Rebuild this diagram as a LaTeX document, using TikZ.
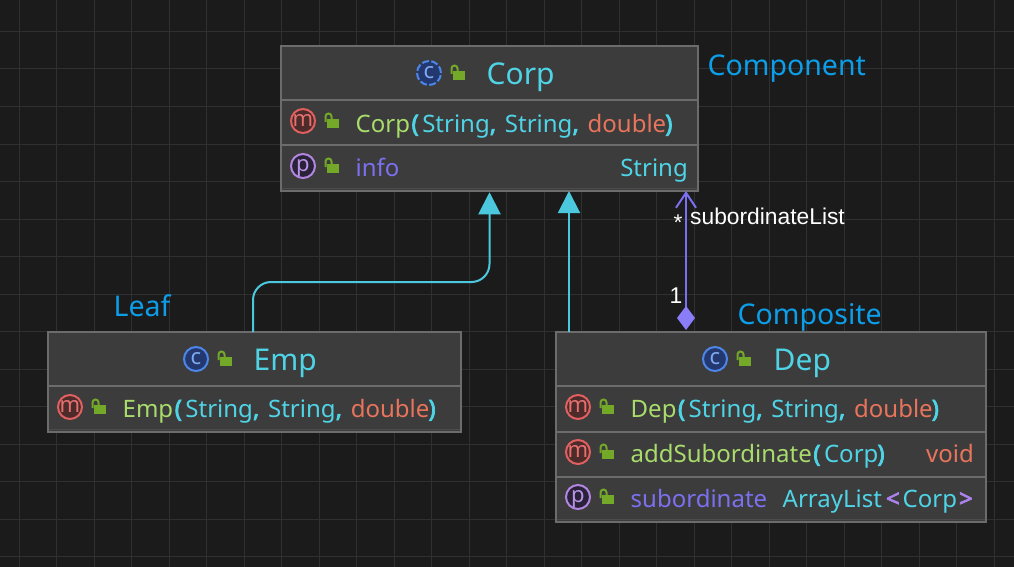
\documentclass[tikz,border=0pt]{standalone}
\usepackage{fontspec}
\setmainfont{Noto Sans}
\newfontfamily\arialfont{Liberation Sans}
\newfontfamily\heavyfont[FakeBold=3]{Noto Sans}
\usetikzlibrary{arrows.meta}
\definecolor{bgcol}{HTML}{1B1B1B}
\definecolor{gridcol}{HTML}{303030}
\definecolor{boxcol}{HTML}{3C3C3C}
\definecolor{edgecol}{HTML}{6C6C6C}
\definecolor{typecol}{HTML}{4FD4E6}
\definecolor{linkcol}{HTML}{4CC8DE}
\definecolor{funccol}{HTML}{A9DC6C}
\definecolor{primcol}{HTML}{E8745C}
\definecolor{propcol}{HTML}{7B70F0}
\definecolor{anglecol}{HTML}{AC82EC}
\definecolor{jointcol}{HTML}{8B7CF8}
\definecolor{notecol}{HTML}{0C9EE8}
\definecolor{lockcol}{HTML}{74A829}
\definecolor{classring}{HTML}{4D85E8}
\definecolor{classfill}{HTML}{22386E}
\definecolor{classtext}{HTML}{7FA8F0}
\definecolor{methring}{HTML}{E05F5F}
\definecolor{methfill}{HTML}{4D2B2B}
\definecolor{methtext}{HTML}{E57070}
\definecolor{propring}{HTML}{B285E0}
\definecolor{propfill}{HTML}{2A2238}
\definecolor{proptext}{HTML}{B994E4}
\tikzset{
  umlbox/.style={draw=edgecol, line width=2.5pt, fill=boxcol, inner sep=0pt},
  rowline/.style={edgecol, line width=2pt},
  footline/.style={black!70, line width=1pt},
  title/.style={anchor=base west, inner sep=0pt, text=typecol, font=\fontsize{30}{34}\selectfont},
  member/.style={anchor=base west, inner sep=0pt, font=\fontsize{24}{30}\selectfont},
  kind/.style={anchor=base east, inner sep=0pt, font=\fontsize{24}{30}\selectfont},
  tag/.style={anchor=base west, inner sep=0pt, text=notecol, font=\fontsize{28.5}{34}\selectfont},
  wire/.style={anchor=base, inner sep=0pt, text=white, font=\arialfont\fontsize{22.8}{26}\selectfont},
  inherit/.style={linkcol, line width=2pt, -{Triangle[length=22pt, width=22pt]}},
  holds/.style={propcol, line width=2pt, {Diamond[length=24pt, width=18pt, color=jointcol]}-{Straight Barb[length=15pt, width=20pt, line width=2pt]}},
  classicon/.style={circle, draw=#1, line width=2pt, minimum size=24pt, inner sep=0pt, text height=11.5pt, text depth=0pt, font=\fontsize{22}{22}\selectfont},
  lockicon/.pic={
    \fill[lockcol] (3,6) rectangle (15,15);
    \draw[lockcol, line width=2pt] (1.5,9) -- (1.5,3.5) arc (180:0:3pt) -- (7.5,6);
  }
}
\newcommand{\classmark}[4][solid]{%
  \node[classicon=classring, #1, fill=classfill, text=classtext] (#2) at (#3,#4) {c};
  \pic at (#3+21,#4-8) {lockicon};
}
\newcommand{\methodmark}[3]{%
  \node[classicon=methring, fill=methfill, text=methtext] (#1) at (#2,#3) {m};
  \pic at (#2+21,#3-8) {lockicon};
}
\newcommand{\propmark}[3]{%
  \node[classicon=propring, fill=propfill, text=proptext] (#1) at (#2,#3) {p};
  \pic at (#2+21,#3-8) {lockicon};
}
\newcommand{\openp}{\hspace{1.5pt}{\heavyfont(}\hspace{3.5pt}}
\newcommand{\closep}{\hspace{-1pt}{\heavyfont)}}
\newcommand{\sep}{{\heavyfont,}\hspace{2.5pt}\ }
\newcommand{\ctor}[1]{\textcolor{funccol}{#1}\textcolor{typecol}{\openp String\sep String\sep}\textcolor{primcol}{double}\textcolor{typecol}{\closep}}
\begin{document}
\begin{tikzpicture}[x=1pt,y=-1pt]
    \useasboundingbox (0,0) rectangle (1014,567);
    \fill[bgcol] (0,0) rectangle (1014,567);
    \foreach \k in {0,...,26} \draw[gridcol, line width=1pt] (19+37.5*\k,0) -- (19+37.5*\k,567);
    \foreach \k in {0,...,14} \draw[gridcol, line width=1pt] (0,31.5+37.5*\k) -- (1014,31.5+37.5*\k);

    % Corp
    \node[umlbox, minimum width=417pt, minimum height=145pt] (corp) at (489.5,118.5) {};
    \draw[rowline] (corp.west |- 0,100) -- (corp.east |- 0,100);
    \draw[rowline] (corp.west |- 0,145) -- (corp.east |- 0,145);
    \draw[footline] (282,188.5) -- (697,188.5);
    \classmark[dash pattern=on 7pt off 2.4pt]{corpicon}{429}{73}
    \node[title] (corpname) at (486.5,85) {Corp};
    \methodmark{corpm}{303}{121}
    \node[member] (corpctor) at (355.5,132) {\ctor{Corp}};
    \propmark{corpp}{303}{166}
    \node[member, text=propcol] (corpinfo) at (355.5,176) {info};
    \node[kind, text=typecol] (corptype) at (688,176) {String};

    % Emp
    \node[umlbox, minimum width=413pt, minimum height=100pt] (emp) at (254.5,382) {};
    \draw[rowline] (emp.west |- 0,386) -- (emp.east |- 0,386);
    \draw[footline] (49,429.5) -- (460,429.5);
    \classmark{empicon}{196}{359}
    \node[title] (empname) at (253.5,370) {Emp};
    \methodmark{empm}{70}{407}
    \node[member] (empctor) at (122.5,417) {\ctor{Emp}};

    % Dep
    \node[umlbox, minimum width=430pt, minimum height=190pt] (dep) at (771,427) {};
    \draw[rowline] (dep.west |- 0,386) -- (dep.east |- 0,386);
    \draw[rowline] (dep.west |- 0,432) -- (dep.east |- 0,432);
    \draw[rowline] (dep.west |- 0,477) -- (dep.east |- 0,477);
    \draw[footline] (557,519.5) -- (985,519.5);
    \classmark{depicon}{715}{359}
    \node[title] (depname) at (773.5,370) {Dep};
    \methodmark{depm}{578}{407}
    \node[member] (depctor) at (630.5,417) {\ctor{Dep}};
    \methodmark{depadd}{578}{452}
    \node[member] (depaddname) at (630.5,462) {\textcolor{funccol}{addSubordinate}\textcolor{typecol}{\openp Corp\closep}};
    \node[kind, text=primcol] (depvoid) at (974,462) {void};
    \propmark{depp}{578}{497}
    \node[member, text=propcol] (depsub) at (630.5,507) {subordinate};
    \node[kind, text=typecol] (deplist) at (973,507) {ArrayList\textcolor{anglecol}{\hspace{4pt}{\heavyfont<}\hspace{3pt}}Corp\textcolor{anglecol}{\hspace{2pt}{\heavyfont>}}};

    % tags
    \node[tag] (tagcomp) at (707.5,76) {Component};
    \node[tag] (tagleaf) at (113.5,316) {Leaf};
    \node[tag] (tagcomps) at (737.5,324) {Composite};

    % connectors
    \coordinate (empout) at (253,332);
    \coordinate (empbend) at (corp.south |- 0,282);
    \coordinate (depout) at (569,332);
    \coordinate (depin) at (569,191);
    \coordinate (wholeout) at (686,330);
    \coordinate (wholein) at (686,191);
    \draw[inherit, rounded corners=18pt] (empout) -- (empout |- empbend) -- (empbend) -- (corp.south);
    \draw[inherit] (depout) -- (depin);
    \draw[holds] (wholeout) -- (wholein);
    \node[wire, anchor=base west] (listname) at (690,224) {subordinateList};
    \node[wire] (manymark) at (678,230) {*};
    \node[wire] (onemark) at (676,303) {1};
\end{tikzpicture}
\end{document}
